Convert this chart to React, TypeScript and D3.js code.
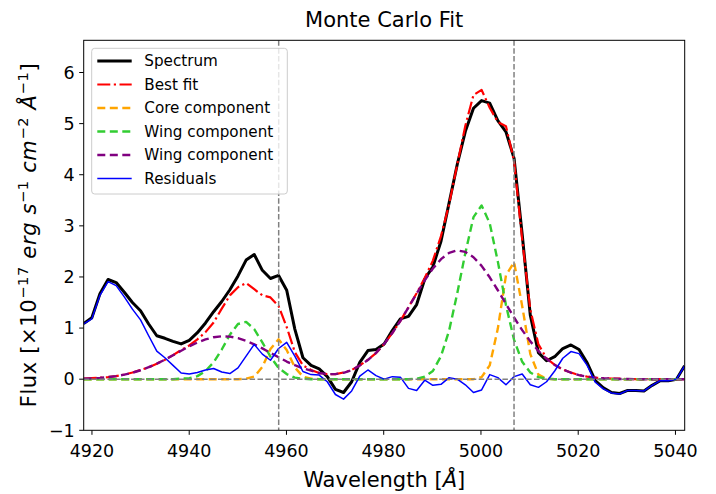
import React from "react";
import * as d3 from "d3";

// Sampling grid of the spectrum (Å)
const WAVE_START = 4918.3;
const WAVE_STEP = 1.67;
const N_PIX = 75;
const wavelength = d3.range(N_PIX).map((i) => WAVE_START + i * WAVE_STEP);

// Observed flux (×1e-17 erg s^-1 cm^-2 Å^-1)
const spectrum = [
  1.09, 1.2, 1.67, 1.95, 1.89, 1.7, 1.5, 1.34, 1.08, 0.85,
  0.8, 0.74, 0.69, 0.76, 0.91, 1.1, 1.32, 1.52, 1.75, 2.02,
  2.33, 2.44, 2.13, 1.97, 2.03, 1.74, 0.98, 0.42, 0.27, 0.2,
  0.05, -0.2, -0.26, -0.05, 0.33, 0.56, 0.58, 0.69, 0.95, 1.18,
  1.23, 1.46, 1.96, 2.2, 2.7, 3.45, 4.2, 4.85, 5.3, 5.45,
  5.4, 5.06, 4.84, 4.32, 2.83, 1.25, 0.52, 0.36, 0.44, 0.6,
  0.67, 0.58, 0.32, -0.03, -0.17, -0.26, -0.28, -0.22, -0.22, -0.23,
  -0.12, -0.03, -0.03, 0.0, 0.26,
];

// Total model
const bestFit = [
  0.01, 0.02, 0.03, 0.04, 0.06, 0.09, 0.13, 0.18, 0.23, 0.3,
  0.38, 0.47, 0.57, 0.66, 0.78, 0.92, 1.11, 1.38, 1.64, 1.8,
  1.88, 1.76, 1.64, 1.6, 1.43, 1.02, 0.53, 0.27, 0.18, 0.12,
  0.1, 0.1, 0.13, 0.18, 0.27, 0.38, 0.51, 0.69, 0.9, 1.14,
  1.41, 1.68, 1.98, 2.32, 2.8, 3.42, 4.2, 4.96, 5.56, 5.66,
  5.31, 5.03, 4.95, 4.27, 2.73, 1.36, 0.68, 0.41, 0.28, 0.19,
  0.13, 0.08, 0.05, 0.03, 0.02, 0.01, 0.01, 0, 0, 0,
  0, 0, 0, 0, 0,
];

// Narrow core of [OIII] 4959/5007
const coreComponent = [
  0, 0, 0, 0, 0, 0, 0, 0, 0, 0,
  0, 0, 0, 0, 0, 0, 0, 0, 0, 0,
  0.01, 0.05, 0.24, 0.59, 0.78, 0.57, 0.23, 0.05, 0.01, 0,
  0, 0, 0, 0, 0, 0, 0, 0, 0, 0,
  0, 0, 0, 0, 0, 0, 0, 0, 0, 0.04,
  0.27, 0.99, 2.03, 2.29, 1.43, 0.49, 0.09, 0.01, 0, 0,
  0, 0, 0, 0, 0, 0, 0, 0, 0, 0,
  0, 0, 0, 0, 0,
];

// First wing component
const wingComponent = [
  0, 0, 0, 0, 0, 0, 0, 0, 0, 0,
  0, 0, 0.01, 0.02, 0.06, 0.16, 0.33, 0.58, 0.87, 1.08,
  1.12, 0.98, 0.72, 0.44, 0.22, 0.1, 0.03, 0.01, 0, 0,
  0, 0, 0, 0, 0, 0, 0, 0, 0, 0,
  0, 0.01, 0.05, 0.16, 0.45, 0.95, 1.68, 2.47, 3.17, 3.4,
  3.05, 2.3, 1.45, 0.77, 0.34, 0.13, 0.04, 0.01, 0, 0,
  0, 0, 0, 0, 0, 0, 0, 0, 0, 0,
  0, 0, 0, 0, 0,
];

// Second, broader wing component
const wingComponent2 = [
  0.01, 0.016, 0.026, 0.04, 0.061, 0.089, 0.126, 0.175, 0.234, 0.303,
  0.382, 0.467, 0.556, 0.641, 0.717, 0.778, 0.82, 0.839, 0.833, 0.803,
  0.751, 0.682, 0.602, 0.514, 0.43, 0.345, 0.274, 0.212, 0.166, 0.12,
  0.1, 0.1, 0.125, 0.175, 0.269, 0.375, 0.514, 0.691, 0.901, 1.141,
  1.406, 1.674, 1.933, 2.164, 2.348, 2.471, 2.52, 2.49, 2.386, 2.217,
  1.993, 1.74, 1.472, 1.207, 0.96, 0.74, 0.551, 0.399, 0.28, 0.191,
  0.126, 0.08, 0.05, 0.03, 0.017, 0.01, 0.005, 0.003, 0.001, 0,
  0, 0, 0, 0, 0,
];

// Data minus model
const residuals = [
  1.08, 1.18, 1.64, 1.91, 1.83, 1.61, 1.37, 1.16, 0.85, 0.55,
  0.42, 0.27, 0.12, 0.1, 0.13, 0.18, 0.21, 0.14, 0.11, 0.22,
  0.45, 0.68, 0.49, 0.37, 0.6, 0.72, 0.45, 0.15, 0.09, 0.08,
  -0.05, -0.3, -0.39, -0.23, 0.06, 0.18, 0.07, 0.0, 0.05, 0.04,
  -0.18, -0.22, -0.02, -0.12, -0.1, 0.03, 0.0, -0.11, -0.26, -0.21,
  0.09, 0.03, -0.11, 0.05, 0.1, -0.11, -0.16, -0.05, 0.16, 0.41,
  0.54, 0.5, 0.27, -0.06, -0.19, -0.27, -0.29, -0.22, -0.22, -0.23,
  -0.12, -0.03, -0.03, 0.0, 0.26,
];

// Line centres marked on the plot (Å)
const lineCenters = [4958.4, 5006.8];

const xTicks = [4920, 4940, 4960, 4980, 5000, 5020, 5040];
const yTicks = [-1, 0, 1, 2, 3, 4, 5, 6];
const X_DOMAIN: [number, number] = [4918.3, 5041.9];
const Y_DOMAIN: [number, number] = [-1, 6.63];

const W = 716;
const H = 494;
const M = { left: 83.7, right: 684.7, top: 40.3, bottom: 430.3 };
const FONT = "DejaVu Sans, sans-serif";

type SeriesDef = {
  label: string;
  values: number[];
  color: string;
  width: number;
  dash?: string;
};

const seriesDefs: SeriesDef[] = [
  { label: "Spectrum", values: spectrum, color: "#000000", width: 3 },
  { label: "Best fit", values: bestFit, color: "#ff0000", width: 2.2, dash: "13,3.5,2.2,3.5" },
  { label: "Core component", values: coreComponent, color: "#ffa500", width: 2.4, dash: "8,4.5" },
  { label: "Wing component", values: wingComponent, color: "#32cd32", width: 2.4, dash: "8,4.5" },
  { label: "Wing component", values: wingComponent2, color: "#800080", width: 2.4, dash: "8,4.5" },
  { label: "Residuals", values: residuals, color: "#0000ff", width: 1.5 },
];

const fmt = (v: number) => (v < 0 ? "\u2212" + Math.abs(v) : String(v));

export default function App() {
  const x = d3.scaleLinear().domain(X_DOMAIN).range([M.left, M.right]);
  const y = d3.scaleLinear().domain(Y_DOMAIN).range([M.bottom, M.top]);

  const path = (vals: number[]) =>
    d3
      .line<number>()
      .x((_, i) => x(wavelength[i]))
      .y((v) => y(v))(vals) || "";

  const legendX = 91.7;
  const legendY = 48.3;
  const legendRowH = 23.5;
  const labelSize = 21;
  const supSize = 14.7;

  return (
    <svg
      width={W}
      height={H}
      viewBox={`0 0 ${W} ${H}`}
      style={{ position: "absolute", left: 0, top: 0, background: "#fff" }}
      fontFamily={FONT}
    >
      <defs>
        <clipPath id="plotClip">
          <rect x={M.left} y={M.top} width={M.right - M.left} height={M.bottom - M.top} />
        </clipPath>
      </defs>
      <rect x={0} y={0} width={W} height={H} fill="#fff" />

      <g clipPath="url(#plotClip)">
        {seriesDefs.map((s, k) => (
          <path
            key={k}
            d={path(s.values)}
            fill="none"
            stroke={s.color}
            strokeWidth={s.width}
            strokeDasharray={s.dash}
            strokeLinejoin="round"
          />
        ))}
        <line
          x1={M.left}
          x2={M.right}
          y1={y(0)}
          y2={y(0)}
          stroke="#808080"
          strokeWidth={1.5}
          strokeDasharray="5.5,2.4"
        />
        {lineCenters.map((c) => (
          <line
            key={c}
            x1={x(c)}
            x2={x(c)}
            y1={M.top}
            y2={M.bottom}
            stroke="#808080"
            strokeWidth={1.5}
            strokeDasharray="5.5,2.4"
          />
        ))}
      </g>

      {/* frame */}
      <rect
        x={M.left}
        y={M.top}
        width={M.right - M.left}
        height={M.bottom - M.top}
        fill="none"
        stroke="#000"
        strokeWidth={1}
      />

      {/* x axis */}
      {xTicks.map((t) => (
        <g key={t}>
          <line x1={x(t)} x2={x(t)} y1={M.bottom} y2={M.bottom + 4.5} stroke="#000" strokeWidth={1} />
          <text x={x(t)} y={456.5} fontSize={17.5} textAnchor="middle" fill="#000">
            {fmt(t)}
          </text>
        </g>
      ))}
      {/* y axis */}
      {yTicks.map((t) => (
        <g key={t}>
          <line x1={M.left - 4.5} x2={M.left} y1={y(t)} y2={y(t)} stroke="#000" strokeWidth={1} />
          <text x={M.left - 9} y={y(t)} dy="0.36em" fontSize={17.5} textAnchor="end" fill="#000">
            {fmt(t)}
          </text>
        </g>
      ))}

      {/* title and axis labels */}
      <text x={(M.left + M.right) / 2} y={27} fontSize={labelSize} textAnchor="middle" fill="#000">
        Monte Carlo Fit
      </text>
      <text x={(M.left + M.right) / 2} y={487} fontSize={labelSize} textAnchor="middle" fill="#000">
        Wavelength [<tspan fontStyle="italic">Å</tspan>]
      </text>
      <text
        transform={`translate(36, ${(M.top + M.bottom) / 2}) rotate(-90)`}
        fontSize={labelSize}
        textAnchor="middle"
        fill="#000"
        textLength={344}
        lengthAdjust="spacing"
      >
        Flux [×10
        <tspan fontSize={supSize} dy={-8}>−17</tspan>
        <tspan dy={8}> </tspan>
        <tspan fontStyle="italic">erg s</tspan>
        <tspan fontSize={supSize} dy={-8}>−1</tspan>
        <tspan dy={8}> </tspan>
        <tspan fontStyle="italic">cm</tspan>
        <tspan fontSize={supSize} dy={-8}>−2</tspan>
        <tspan dy={8}> </tspan>
        <tspan fontStyle="italic">Å</tspan>
        <tspan fontSize={supSize} dy={-8}>−1</tspan>
        <tspan dy={8}>]</tspan>
      </text>

      {/* legend */}
      <rect
        x={legendX}
        y={legendY}
        width={195.6}
        height={145.7}
        rx={3}
        fill="#fff"
        fillOpacity={0.8}
        stroke="#cccccc"
        strokeWidth={1}
      />
      {seriesDefs.map((s, k) => {
        const ly = 61 + k * legendRowH;
        return (
          <g key={k}>
            <line
              x1={97.3}
              x2={131.7}
              y1={ly}
              y2={ly}
              stroke={s.color}
              strokeWidth={s.width}
              strokeDasharray={s.dash}
            />
            <text x={144.3} y={ly} dy="0.36em" fontSize={15.2} fill="#000">
              {s.label}
            </text>
          </g>
        );
      })}
    </svg>
  );
}
